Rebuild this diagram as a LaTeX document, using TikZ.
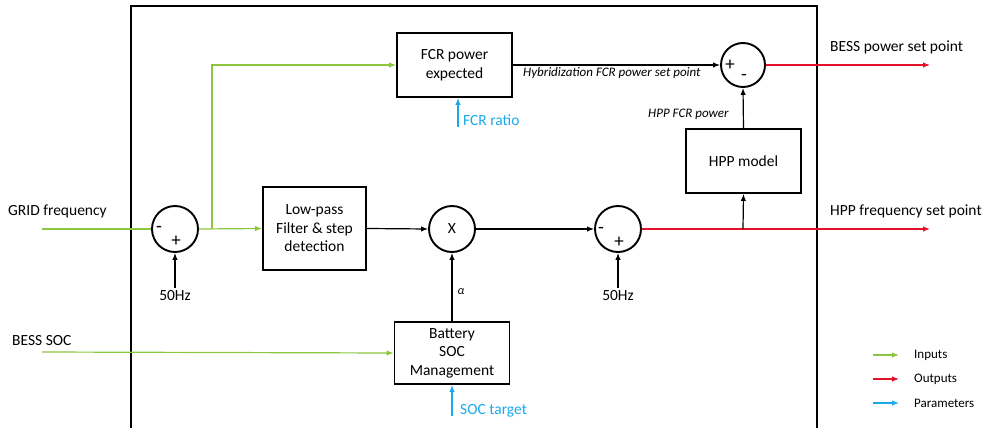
\documentclass[tikz,border=0pt]{standalone}
\usepackage{fontspec}
\setmainfont{Carlito}
\usetikzlibrary{arrows.meta}
\definecolor{gin}{RGB}{140,198,63}
\definecolor{rout}{RGB}{228,18,40}
\definecolor{bpar}{RGB}{28,168,236}
\begin{document}
\begin{tikzpicture}[x=1pt,y=-1pt,
  mainfont/.style={font=\fontsize{15.5}{18.5}\selectfont},
  blk/.style={draw,line width=1.9pt,align=center,inner sep=0pt,mainfont},
  sumc/.style={draw,circle,line width=1.9pt,minimum size=46pt,inner sep=0pt,mainfont},
  conn/.style={line width=1.2pt},
  arr/.style={conn,-{Latex[length=7pt,width=5.5pt]}},
  garr/.style={arr,gin},
  rarr/.style={arr,rout},
  barr/.style={arr,bpar},
  lbl/.style={inner sep=0pt,mainfont,anchor=west},
  ilbl/.style={inner sep=0pt,font=\fontsize{13}{15}\selectfont\itshape},
  leg/.style={inner sep=0pt,anchor=west,font=\fontsize{13}{15}\selectfont},
  sgn/.style={inner sep=0pt,font=\fontsize{19}{21}\selectfont}
]
\useasboundingbox (0,0) rectangle (983,428);
% frame
\draw[line width=2pt] (131,428) -- (131,6) -- (817,6) -- (817,428);

% blocks
\node[blk,minimum width=103pt,minimum height=83pt] (lp) at (314.5,228.5) {Low-pass\\Filter \& step\\detection};
\node[blk,minimum width=115pt,minimum height=64pt] (fcr) at (454.5,65) {FCR power\\expected};
\node[blk,minimum width=115pt,minimum height=62pt] (bat) at (452,353) {Battery\\SOC\\Management};
\node[blk,minimum width=115pt,minimum height=64pt] (hpp) at (743.5,161) {HPP model};

% circles
\node[sumc] (s1) at (175,229) {};
\node[sgn] at (159,229) {-};
\node[sgn] at (176,241) {+};
\node[sumc] (mul) at (452,229) {X};
\node[sumc] (s3) at (618,229) {};
\node[sgn] at (601,230) {-};
\node[sgn] at (619,242) {+};
\node[sumc,minimum size=44pt] (s4) at (743,65) {};
\node[sgn] at (730,65) {+};
\node[sgn] at (744,77) {-};

% labels
\node[lbl] (gf) at (8,211) {GRID frequency};
\node[lbl] (bs) at (12,341) {BESS SOC};
\node[lbl] (hfs) at (830,211) {HPP frequency set point};
\node[lbl] (bps) at (830,47) {BESS power set point};
\node[ilbl,anchor=west] (hyb) at (523,73) {Hybridization FCR power set point};
\node[ilbl,anchor=west] (hfp) at (648,114) {HPP FCR power};
\node[inner sep=0pt,mainfont] (hz1) at (175,296) {50Hz};
\node[inner sep=0pt,mainfont] (hz2) at (618,296) {50Hz};
\node[inner sep=0pt,font=\fontsize{12}{14}\selectfont\itshape] (al) at (461,292) {α};
\node[lbl,text=bpar] (fr) at (463,120) {FCR ratio};
\node[lbl,text=bpar] (st) at (460,411) {SOC target};

% coordinates
\coordinate (gin1) at (42,229);
\coordinate (gin2) at (42,352);
\coordinate (br) at (212,229);
\coordinate (o1) at (930,65);
\coordinate (o2) at (930,229);
\coordinate (tap) at (743,229);
\coordinate (frs) at (458,127);
\coordinate (sts) at (452,416);

% connectors
\draw[conn,gin] (gin1) -- (s1.west);
\draw[garr] (s1.east) -- (lp.west);
\draw[garr] (br) |- (fcr.west);
\draw[garr] (gin2) -- (bat.west);
\draw[arr] (lp.east) -- (mul.west);
\draw[arr] (mul.east) -- (s3.west);
\draw[arr] (hz1.north) ++(0,-3) -- (s1.south);
\draw[arr] (hz2.north) ++(0,-3) -- (s3.south);
\draw[arr] (bat.north) -- (mul.south);
\draw[rarr] (s3.east) -- (o2);
\draw[arr] (tap) -- (hpp.south);
\draw[arr] (hpp.north) -- (s4.south);
\draw[arr] (fcr.east) -- (s4.west);
\draw[rarr] (s4.east) -- (o1);
\draw[barr] (frs) -- (frs |- fcr.south);
\draw[barr] (sts) -- (bat.south);

% legend
\coordinate (lg1a) at (873,355); \coordinate (lg1b) at (899,355);
\coordinate (lg2a) at (873,379); \coordinate (lg2b) at (899,379);
\coordinate (lg3a) at (873,403); \coordinate (lg3b) at (899,403);
\draw[garr] (lg1a) -- (lg1b);
\draw[rarr] (lg2a) -- (lg2b);
\draw[barr] (lg3a) -- (lg3b);
\node[leg] (li) at (914,355) {Inputs};
\node[leg] (lo) at (914,379) {Outputs};
\node[leg] (lpar) at (914,403) {Parameters};
\end{tikzpicture}
\end{document}
